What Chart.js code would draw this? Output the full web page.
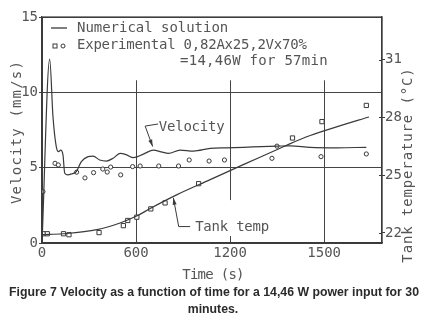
<!DOCTYPE html>
<html>
<head>
<meta charset="utf-8">
<script src="https://cdn.jsdelivr.net/npm/chart.js@4.4.1/dist/chart.umd.min.js"></script>
<style>
  html, body { margin: 0; padding: 0; background: #fff; }
</style>
</head>
<body>
<canvas id="fig7" width="425" height="326"></canvas>
<script>
// numerical solution: velocity (mm/s) against time (s)
const velTime  = [0, 49, 70, 91, 106, 119, 134, 145, 166, 187, 219, 251, 294, 326, 368, 411, 453, 498, 540, 583, 647, 711, 760, 807, 881, 966, 1073, 1179, 1285, 1400, 1499, 1584, 1711, 1882, 2069];
const velValue = [0, 12.2, 8.4, 6.4, 6.06, 6.17, 5.84, 4.63, 4.52, 4.58, 4.74, 5.40, 5.73, 5.77, 5.51, 5.44, 5.62, 5.95, 5.85, 5.66, 5.90, 6.17, 6.05, 5.95, 6.17, 6.10, 6.28, 6.32, 6.35, 6.40, 6.43, 6.45, 6.35, 6.32, 6.35];

// numerical solution: tank temperature (°C)
const tempTime  = [0, 134, 351, 498, 607, 690, 862, 1073, 1284, 1501, 1584, 1711, 1884, 2086];
const tempValue = [21.91, 21.96, 22.17, 22.52, 22.89, 23.27, 23.99, 24.77, 25.55, 26.33, 26.64, 27.06, 27.52, 28.02];

// experimental points
const expVelTime   = [6, 83, 104, 221, 274, 329, 388, 416, 438, 502, 578, 626, 745, 871, 939, 1066, 1164, 1467, 1499, 1780, 2069];
const expVelValue  = [3.41, 5.29, 5.18, 4.70, 4.32, 4.67, 4.91, 4.71, 5.04, 4.52, 5.07, 5.11, 5.11, 5.11, 5.51, 5.44, 5.51, 5.62, 6.43, 5.73, 5.91];
const expTempTime  = [8, 34, 137, 172, 364, 519, 547, 605, 694, 785, 999, 1598, 1786, 2069];
const expTempValue = [21.96, 21.96, 21.96, 21.91, 22.02, 22.38, 22.65, 22.82, 23.25, 23.56, 24.56, 26.93, 27.78, 28.62];

// axes (the printed figure labels its third grid line "1500")
const xTickValues = [0, 600, 1200, 1800];
const xTickLabels = ['0', '600', '1200', '1500'];
const velTicks = [0, 5, 10, 15];
const tempTicks = [22, 25, 28, 31];

const ink = '#3a3a3a';
const textInk = '#555';
const mono = '"DejaVu Sans Mono", monospace';

const pts = (xs, ys) => xs.map((x, i) => ({ x: x, y: ys[i] }));

// draws text one character at a time, the plotter font is widely spaced
function spaced(ctx, text, x, y, step) {
    for (let i = 0; i < text.length; i++) {
        ctx.fillText(text[i], x + i * step, y);
    }
}

function arrow(ctx, path) {
    ctx.beginPath();
    ctx.moveTo(path[0][0], path[0][1]);
    for (let i = 1; i < path.length; i++) ctx.lineTo(path[i][0], path[i][1]);
    ctx.stroke();
    const [x1, y1] = path[path.length - 2];
    const [x2, y2] = path[path.length - 1];
    const ang = Math.atan2(y2 - y1, x2 - x1);
    ctx.beginPath();
    ctx.moveTo(x2, y2);
    ctx.lineTo(x2 - 7 * Math.cos(ang) + 2 * Math.sin(ang), y2 - 7 * Math.sin(ang) - 2 * Math.cos(ang));
    ctx.lineTo(x2 - 7 * Math.cos(ang) - 2 * Math.sin(ang), y2 - 7 * Math.sin(ang) + 2 * Math.cos(ang));
    ctx.closePath();
    ctx.fill();
}

const figPlugin = {
    id: 'fig',
    beforeDatasetsDraw(chart) {
        const { ctx, chartArea: a, scales } = chart;
        const { x, y } = scales;
        ctx.save();
        ctx.fillStyle = '#fff';
        // legend panel hides the top of the vertical grid lines
        ctx.fillRect(a.left + 1, a.top + 1, a.right - a.left - 2, y.getPixelForValue(10.8) - a.top - 1);
        // gap behind the "Tank temp" label
        ctx.fillRect(x.getPixelForValue(958), y.getPixelForValue(2.85), 80, 36);
        ctx.restore();
    },
    afterDraw(chart) {
        const { ctx, chartArea: a, scales } = chart;
        const { x, y, y2 } = scales;
        const px = (t, v) => [x.getPixelForValue(t), y.getPixelForValue(v)];
        ctx.save();
        ctx.strokeStyle = ink;
        ctx.fillStyle = ink;

        // frame
        ctx.lineWidth = 1.2;
        ctx.strokeRect(a.left, a.top, a.right - a.left, a.bottom - a.top);

        // right axis ticks also poke inside
        ctx.lineWidth = 1;
        tempTicks.forEach(t => {
            const yy = Math.round(y2.getPixelForValue(t)) + 0.5;
            ctx.beginPath();
            ctx.moveTo(a.right - 3, yy);
            ctx.lineTo(a.right, yy);
            ctx.stroke();
        });

        // legend
        ctx.font = '14px ' + mono;
        ctx.textBaseline = 'middle';
        ctx.textAlign = 'left';
        ctx.lineWidth = 1.3;
        ctx.beginPath();
        ctx.moveTo(a.left + 9, a.top + 11);
        ctx.lineTo(a.left + 25, a.top + 11);
        ctx.stroke();
        ctx.lineWidth = 1;
        ctx.strokeRect(a.left + 11, a.top + 27, 4, 4);
        ctx.beginPath();
        ctx.arc(a.left + 21, a.top + 29, 2, 0, Math.PI * 2);
        ctx.stroke();

        // curve leader arrows
        arrow(ctx, [px(741, 7.9), px(658, 7.76), px(706, 6.4)]);
        arrow(ctx, [px(945, 1.09), px(872, 1.09), px(838, 3.0)]);

        ctx.fillStyle = textInk;
        spaced(ctx, 'Numerical solution', a.left + 35, a.top + 11, 8.4);
        spaced(ctx, 'Experimental 0,82Ax25,2Vx70%', a.left + 35, a.top + 28.5, 8.2);
        spaced(ctx, '=14,46W for 57min', a.left + 138, a.top + 44.5, 8.7);
        spaced(ctx, 'Velocity', x.getPixelForValue(745), y.getPixelForValue(7.7), 8.2);
        spaced(ctx, 'Tank temp', x.getPixelForValue(977), y.getPixelForValue(1.05), 8.2);

        // axis titles
        const title = (text, cx, cy, step, rot) => {
            ctx.save();
            ctx.translate(cx, cy);
            ctx.rotate(rot);
            spaced(ctx, text, -text.length * step / 2, 0, step);
            ctx.restore();
        };
        title('Time (s)', 213, 275, 7.7, 0);
        title('Velocity (mm/s)', 17, 132, 9.6, -Math.PI / 2);
        title('Tank temperature (°C)', 408, 165, 9.3, -Math.PI / 2);

        // caption, printed in a condensed bold face
        ctx.fillStyle = '#2b2b2b';
        ctx.font = 'bold 12px "Liberation Sans", Arial, sans-serif';
        ctx.textAlign = 'center';
        const line1 = 'Figure 7 Velocity as a function of time for a 14,46 W power input for 30';
        const sx = 410 / ctx.measureText(line1).width;
        ctx.save();
        ctx.translate(214, 293);
        ctx.scale(sx, 1);
        ctx.fillText(line1, 0, 0);
        ctx.restore();
        ctx.save();
        ctx.translate(213, 309.5);
        ctx.scale(sx, 1);
        ctx.fillText('minutes.', 0, 0);
        ctx.restore();

        ctx.restore();
    }
};

new Chart(document.getElementById('fig7'), {
    type: 'line',
    data: {
        datasets: [
            {
                label: 'Velocity',
                data: pts(velTime, velValue),
                yAxisID: 'y',
                borderColor: ink,
                borderWidth: 1.2,
                pointRadius: 0,
                cubicInterpolationMode: 'monotone'
            },
            {
                label: 'Tank temp',
                data: pts(tempTime, tempValue),
                yAxisID: 'y2',
                borderColor: ink,
                borderWidth: 1.2,
                pointRadius: 0,
                cubicInterpolationMode: 'monotone'
            },
            {
                label: 'Experimental velocity',
                data: pts(expVelTime, expVelValue),
                yAxisID: 'y',
                showLine: false,
                pointStyle: 'circle',
                pointRadius: 2.1,
                pointBorderWidth: 1,
                pointBorderColor: ink,
                pointBackgroundColor: '#fff'
            },
            {
                label: 'Experimental temperature',
                data: pts(expTempTime, expTempValue),
                yAxisID: 'y2',
                showLine: false,
                pointStyle: 'rect',
                pointRadius: 3,
                pointBorderWidth: 1,
                pointBorderColor: ink,
                pointBackgroundColor: '#fff'
            }
        ]
    },
    options: {
        responsive: false,
        animation: false,
        events: [],
        layout: { padding: { top: 17, bottom: 53, left: 0, right: 0 } },
        plugins: { legend: { display: false }, tooltip: { enabled: false } },
        scales: {
            x: {
                type: 'linear',
                min: 0,
                max: 2169,
                afterBuildTicks: s => { s.ticks = xTickValues.map(v => ({ value: v })); },
                afterFit: s => { s.height = 30; },
                ticks: {
                    padding: 2,
                    color: textInk,
                    font: { family: mono, size: 14 },
                    callback: v => xTickLabels[xTickValues.indexOf(v)]
                },
                grid: { color: '#444', lineWidth: 1, drawTicks: false },
                border: { color: ink, width: 1.2 }
            },
            y: {
                position: 'left',
                min: 0,
                max: 15,
                afterBuildTicks: s => { s.ticks = velTicks.map(v => ({ value: v })); },
                afterFit: s => { s.width = 42; },
                ticks: { padding: 1, color: textInk, font: { family: mono, size: 14 } },
                grid: { color: '#444', lineWidth: 1, tickLength: 3 },
                border: { color: ink, width: 1.2 }
            },
            y2: {
                position: 'right',
                min: 21.48,
                max: 33.21,
                afterBuildTicks: s => { s.ticks = tempTicks.map(v => ({ value: v })); },
                afterFit: s => { s.width = 43; },
                ticks: { padding: 0, color: textInk, font: { family: mono, size: 14 } },
                grid: { color: ink, lineWidth: 1, tickLength: 3, drawOnChartArea: false },
                border: { color: ink, width: 1.2 }
            }
        }
    },
    plugins: [figPlugin]
});
</script>
</body>
</html>
